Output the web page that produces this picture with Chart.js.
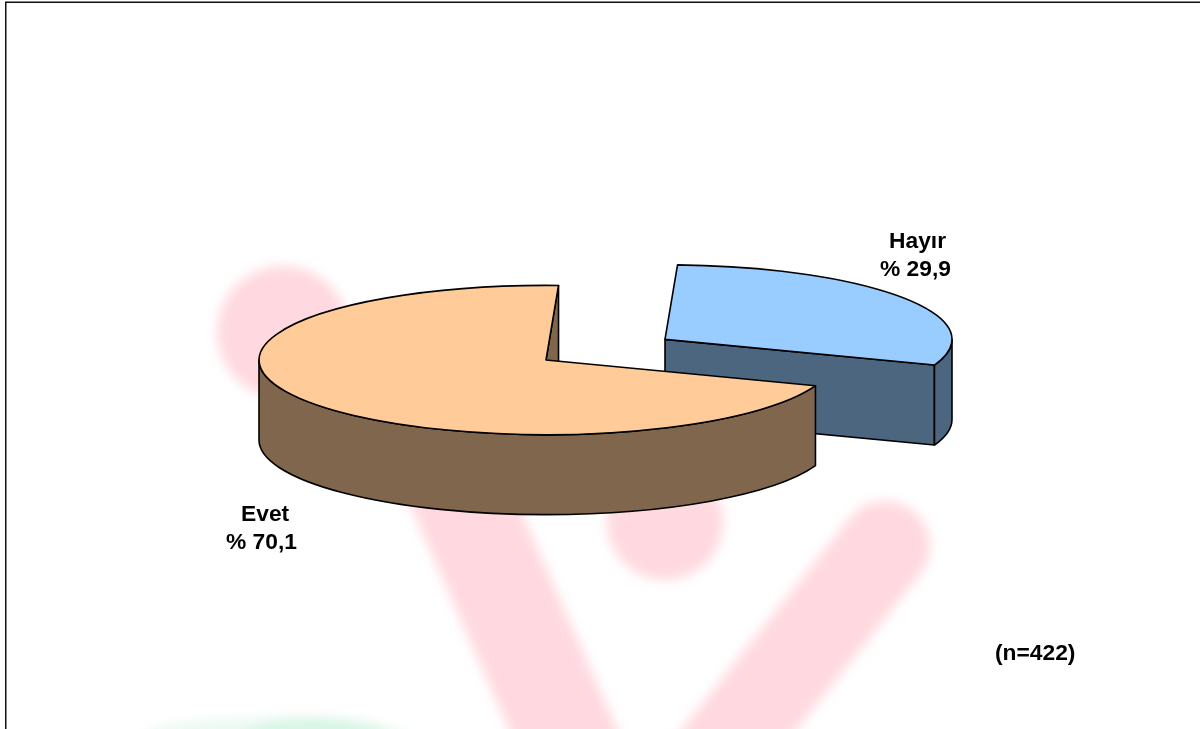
<!DOCTYPE html>
<html>
<head>
<meta charset="utf-8">
<title>Evet / Hayır</title>
<script src="https://cdn.jsdelivr.net/npm/chart.js@4/dist/chart.umd.min.js"></script>
<style>html,body{margin:0;padding:0;background:#fff}canvas{display:block}</style>
</head>
<body>
<canvas id="c" width="1200" height="729"></canvas>
<script>
const categories = ['Hayır', 'Evet'];
const values = [29.9, 70.1];
const sampleNote = '(n=422)';
const topColors = ['#99CCFF', '#FFCC99'];
const wallColors = ['#4D6680', '#80664D'];
const sliceShifts = [143, 0];
const labelAnchors = [[889, 248, 880, 276], [241, 521, 226, 549]];
const notePos = [995, 660];

const squash = 0.26, depth = 80, lineW = 1.6;
const FONT = 'bold 22.8px "Liberation Sans", Arial, sans-serif';

// A pie whose arcs lie on a tilted plane and stand on an extruded wall.
class TiltedPie extends Chart.PieController {
  draw() {
    const ctx = this.chart.ctx;
    this._cachedMeta.data.forEach((arc, i) => {
      const mid = (arc.startAngle + arc.endAngle) / 2;
      const dx = Math.cos(mid) * sliceShifts[i];
      const dy = Math.sin(mid) * sliceShifts[i] * squash;
      const cx = arc.x + dx, cy = arc.y + dy;
      const r = arc.outerRadius, ry = r * squash;
      const a0 = arc.startAngle, a1 = arc.endAngle;

      ctx.save();
      ctx.lineWidth = lineW;
      ctx.strokeStyle = '#000';
      ctx.lineJoin = 'round';
      ctx.fillStyle = wallColors[i];
      const ex = cx + Math.cos(a1) * r, ey = cy + Math.sin(a1) * ry;
      ctx.beginPath();
      ctx.moveTo(cx, cy); ctx.lineTo(ex, ey);
      ctx.lineTo(ex, ey + depth); ctx.lineTo(cx, cy + depth);
      ctx.closePath(); ctx.fill(); ctx.stroke();
      const s = Math.max(a0, 0), e = Math.min(a1, Math.PI);
      if (e > s) {
        ctx.beginPath();
        ctx.ellipse(cx, cy, r, ry, 0, s, e);
        ctx.ellipse(cx, cy + depth, r, ry, 0, e, s, true);
        ctx.closePath(); ctx.fill(); ctx.stroke();
      }
      ctx.restore();

      ctx.save();
      ctx.translate(dx, arc.y + dy);
      ctx.scale(1, squash);
      ctx.translate(0, -arc.y);
      arc.draw(ctx);
      ctx.restore();

      ctx.save();
      ctx.lineWidth = lineW;
      ctx.strokeStyle = '#000';
      ctx.lineJoin = 'round';
      ctx.beginPath();
      ctx.moveTo(cx, cy);
      ctx.ellipse(cx, cy, r, ry, 0, a0, a1);
      ctx.closePath();
      ctx.stroke();
      ctx.restore();
    });
  }
}
TiltedPie.id = 'tiltedPie';
Chart.register(TiltedPie);

const decor = {
  id: 'decor',
  beforeDraw(chart) {
    const ctx = chart.ctx;
    ctx.save();
    ctx.fillStyle = '#fff';
    ctx.fillRect(0, 0, 1200, 729);
    ctx.filter = 'blur(6px)';
    ctx.fillStyle = '#FFD9DF';
    ctx.strokeStyle = '#FFD9DF';
    ctx.lineCap = 'round';
    ctx.beginPath(); ctx.arc(283, 332, 66, 0, Math.PI * 2); ctx.fill();
    ctx.beginPath(); ctx.arc(665, 522, 58, 0, Math.PI * 2); ctx.fill();
    ctx.lineWidth = 99;
    ctx.beginPath(); ctx.moveTo(440, 450); ctx.lineTo(581, 770); ctx.stroke();
    ctx.lineWidth = 90;
    ctx.beginPath(); ctx.moveTo(885, 546); ctx.lineTo(715, 760); ctx.stroke();
    ctx.fillStyle = '#EAF9F1';
    ctx.beginPath(); ctx.ellipse(275, 738, 135, 20, 0, 0, Math.PI * 2); ctx.fill();
    ctx.fillStyle = '#D6F5E4';
    ctx.beginPath(); ctx.ellipse(315, 738, 70, 18, 0, 0, Math.PI * 2); ctx.fill();
    ctx.filter = 'none';
    ctx.fillStyle = '#111';
    ctx.fillRect(5, 1.5, 1195, 1.5);
    ctx.fillRect(5, 2, 1.5, 727);
    ctx.restore();
  },
  afterDraw(chart) {
    const ctx = chart.ctx;
    ctx.save();
    ctx.font = FONT;
    ctx.fillStyle = '#000';
    ctx.textBaseline = 'alphabetic';
    ctx.textAlign = 'left';
    categories.forEach((name, i) => {
      const p = labelAnchors[i];
      ctx.fillText(name, p[0], p[1]);
      ctx.fillText('% ' + String(values[i]).replace('.', ','), p[2], p[3]);
    });
    ctx.fillText(sampleNote, notePos[0], notePos[1]);
    ctx.restore();
  }
};

new Chart(document.getElementById('c'), {
  type: 'tiltedPie',
  data: {
    labels: categories,
    datasets: [{
      data: values,
      backgroundColor: topColors,
      borderWidth: 0,
      radius: 287,
      clip: false
    }]
  },
  options: {
    responsive: false,
    animation: false,
    rotation: 2.5,
    layout: { padding: { left: 0, top: 0, right: 108, bottom: 9 } },
    plugins: { legend: { display: false }, tooltip: { enabled: false } }
  },
  plugins: [decor]
});
</script>
</body>
</html>
